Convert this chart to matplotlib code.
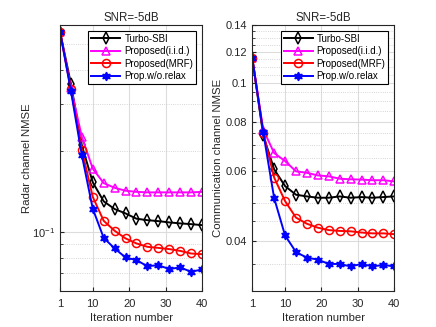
import numpy as np
import matplotlib
matplotlib.use("Agg")
import matplotlib.pyplot as plt
from matplotlib.ticker import FixedLocator, NullFormatter, LogLocator

plt.rcParams['font.family'] = ['Liberation Sans', 'DejaVu Sans']

# iteration index
iters = [1, 4, 7, 10, 13, 16, 19, 22, 25, 28, 31, 34, 37, 40]
xtick_vals = [1, 10, 20, 30, 40]

# radar channel NMSE (left)
radar_turbo = [0.558, 0.356, 0.210, 0.153, 0.130, 0.1217, 0.1172, 0.112, 0.1106, 0.1097, 0.1085, 0.1076, 0.1069, 0.106]
radar_iid = [0.558, 0.343, 0.226, 0.172, 0.152, 0.146, 0.1424, 0.141, 0.1404, 0.1404, 0.1404, 0.1404, 0.1404, 0.141]
radar_mrf = [0.558, 0.340, 0.202, 0.135, 0.110, 0.101, 0.0946, 0.0906, 0.088, 0.0872, 0.0863, 0.085, 0.0831, 0.0826]
radar_relax = [0.558, 0.335, 0.193, 0.122, 0.095, 0.0868, 0.0803, 0.0785, 0.0745, 0.0752, 0.0727, 0.0738, 0.071, 0.0725]

# communication channel NMSE (right)
comm_turbo = [0.1155, 0.0739, 0.0607, 0.0551, 0.0524, 0.0519, 0.0515, 0.0515, 0.0519, 0.0515, 0.0517, 0.0515, 0.0517, 0.0519]
comm_iid = [0.1155, 0.0764, 0.0667, 0.0637, 0.0600, 0.0595, 0.0586, 0.0583, 0.0575, 0.0573, 0.0572, 0.0570, 0.0570, 0.0566]
comm_mrf = [0.1155, 0.0750, 0.0579, 0.0505, 0.0459, 0.0443, 0.0433, 0.0427, 0.0425, 0.0424, 0.0421, 0.0419, 0.0419, 0.0417]
comm_relax = [0.1155, 0.0752, 0.0514, 0.0414, 0.0376, 0.0364, 0.0360, 0.0351, 0.0351, 0.0346, 0.0351, 0.0346, 0.0349, 0.0346]

comm_major = [0.04, 0.06, 0.08, 0.1, 0.12, 0.14]
comm_major_labels = ['0.04', '0.06', '0.08', '0.1', '0.12', '0.14']

labels = ['Turbo-SBI', 'Proposed(i.i.d.)', 'Proposed(MRF)', 'Prop.w/o.relax']
colors = ['#000000', '#ff00ff', '#ff0000', '#0000ff']
markers = ['d', '^', 'o', (6, 1, 0)]
txt = '#262626'

fig = plt.figure(figsize=(4.36, 3.27), dpi=100)
ax1 = fig.add_axes([60/436, 1-290.5/327, 142/436, 265.5/327])
ax2 = fig.add_axes([252.3/436, 1-290.5/327, 142/436, 265.5/327])


def draw(ax, series):
    for i, y in enumerate(series):
        if i == 3:
            ax.plot(iters, y, color=colors[i], marker=markers[i], ms=6.2, mfc=colors[i],
                    mec=colors[i], lw=1.4, label=labels[i])
        else:
            ax.plot(iters, y, color=colors[i], marker=markers[i], ms=5.8, mfc='none',
                    mec=colors[i], mew=1.1, lw=1.4, label=labels[i])
    ax.set_yscale('log')
    ax.set_xlim(1, 40)
    ax.set_xticks(xtick_vals)
    ax.grid(True, which='major', color='#dcdcdc', lw=0.8)
    ax.grid(True, which='minor', axis='y', color='#c8c8c8', lw=0.6, ls=':')
    ax.tick_params(which='both', direction='in', labelsize=8, color=txt, labelcolor=txt)
    ax.tick_params(which='major', length=3)
    ax.tick_params(which='minor', length=1.8)
    ax.tick_params(axis='x', which='minor', bottom=False)
    ax.tick_params(axis='x', pad=6)
    for s in ax.spines.values():
        s.set_color(txt)
        s.set_linewidth(0.8)
    ax.set_axisbelow(True)
    ax.set_title('SNR=-5dB', fontsize=8.3, color=txt, pad=3)
    ax.set_xlabel('Iteration number', fontsize=8.2, color=txt, labelpad=3)
    leg = ax.legend(loc='upper right', fontsize=7, frameon=True, fancybox=False,
                    edgecolor='k', framealpha=1, borderpad=0.3, labelspacing=0.25,
                    handlelength=3.0, handletextpad=0.4, borderaxespad=0.6)
    leg.get_frame().set_linewidth(0.8)


draw(ax1, [radar_turbo, radar_iid, radar_mrf, radar_relax])
ax1.set_ylim(0.0605, 0.59)
ax1.yaxis.set_major_locator(LogLocator(base=10, numticks=5))
ax1.yaxis.set_minor_locator(LogLocator(base=10, subs=np.arange(2, 10), numticks=10))
ax1.yaxis.set_minor_formatter(NullFormatter())
ax1.set_ylabel('Radar channel NMSE', fontsize=8.2, color=txt)
ax1.yaxis.set_label_coords(-0.197, 0.5)

draw(ax2, [comm_turbo, comm_iid, comm_mrf, comm_relax])
ax2.set_ylim(0.0301, 0.14)
ax2.yaxis.set_major_locator(FixedLocator(comm_major))
ax2.set_yticklabels(comm_major_labels)
minor = [v for v in np.round(np.arange(0.03, 0.1401, 0.005), 3) if v not in comm_major]
ax2.yaxis.set_minor_locator(FixedLocator(minor))
ax2.yaxis.set_minor_formatter(NullFormatter())
ax2.set_ylabel('Communication channel NMSE', fontsize=8.2, color=txt)
ax2.yaxis.set_label_coords(-0.206, 0.5)

fig.savefig('out.png', dpi=100)
